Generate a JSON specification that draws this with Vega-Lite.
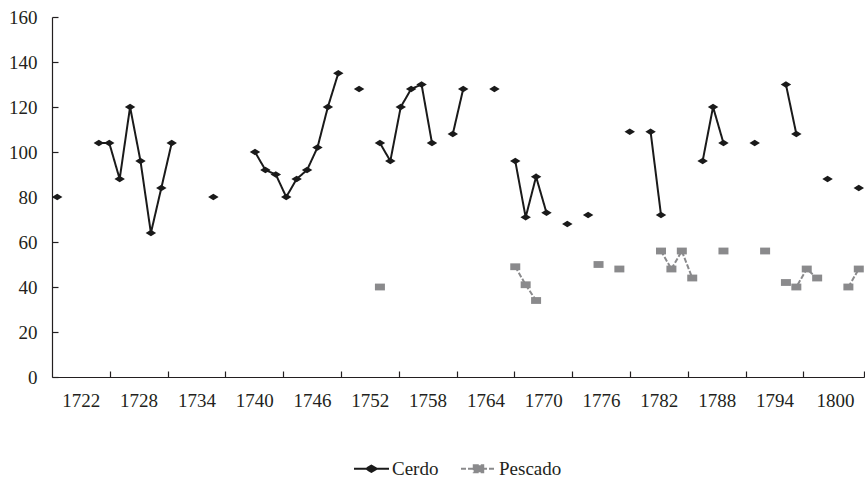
{
  "$schema": "https://vega.github.io/schema/vega-lite/v6.json",
  "width": 812,
  "height": 360,
  "autosize": {"type": "none"},
  "padding": {"left": 52, "top": 17, "right": 1, "bottom": 103},
  "background": "white",
  "config": {"view": {"stroke": null}, "font": "Liberation Serif"},
  "data": {
    "values": [
      {"anio": 1722, "serie": "Cerdo", "valor": 80, "tramo": "c1"},
      {"anio": 1726, "serie": "Cerdo", "valor": 104, "tramo": "c2"},
      {"anio": 1727, "serie": "Cerdo", "valor": 104, "tramo": "c2"},
      {"anio": 1728, "serie": "Cerdo", "valor": 88, "tramo": "c2"},
      {"anio": 1729, "serie": "Cerdo", "valor": 120, "tramo": "c2"},
      {"anio": 1730, "serie": "Cerdo", "valor": 96, "tramo": "c2"},
      {"anio": 1731, "serie": "Cerdo", "valor": 64, "tramo": "c2"},
      {"anio": 1732, "serie": "Cerdo", "valor": 84, "tramo": "c2"},
      {"anio": 1733, "serie": "Cerdo", "valor": 104, "tramo": "c2"},
      {"anio": 1737, "serie": "Cerdo", "valor": 80, "tramo": "c3"},
      {"anio": 1741, "serie": "Cerdo", "valor": 100, "tramo": "c4"},
      {"anio": 1742, "serie": "Cerdo", "valor": 92, "tramo": "c4"},
      {"anio": 1743, "serie": "Cerdo", "valor": 90, "tramo": "c4"},
      {"anio": 1744, "serie": "Cerdo", "valor": 80, "tramo": "c4"},
      {"anio": 1745, "serie": "Cerdo", "valor": 88, "tramo": "c4"},
      {"anio": 1746, "serie": "Cerdo", "valor": 92, "tramo": "c4"},
      {"anio": 1747, "serie": "Cerdo", "valor": 102, "tramo": "c4"},
      {"anio": 1748, "serie": "Cerdo", "valor": 120, "tramo": "c4"},
      {"anio": 1749, "serie": "Cerdo", "valor": 135, "tramo": "c4"},
      {"anio": 1751, "serie": "Cerdo", "valor": 128, "tramo": "c5"},
      {"anio": 1753, "serie": "Cerdo", "valor": 104, "tramo": "c6"},
      {"anio": 1754, "serie": "Cerdo", "valor": 96, "tramo": "c6"},
      {"anio": 1755, "serie": "Cerdo", "valor": 120, "tramo": "c6"},
      {"anio": 1756, "serie": "Cerdo", "valor": 128, "tramo": "c6"},
      {"anio": 1757, "serie": "Cerdo", "valor": 130, "tramo": "c6"},
      {"anio": 1758, "serie": "Cerdo", "valor": 104, "tramo": "c6"},
      {"anio": 1760, "serie": "Cerdo", "valor": 108, "tramo": "c7"},
      {"anio": 1761, "serie": "Cerdo", "valor": 128, "tramo": "c7"},
      {"anio": 1764, "serie": "Cerdo", "valor": 128, "tramo": "c8"},
      {"anio": 1766, "serie": "Cerdo", "valor": 96, "tramo": "c9"},
      {"anio": 1767, "serie": "Cerdo", "valor": 71, "tramo": "c9"},
      {"anio": 1768, "serie": "Cerdo", "valor": 89, "tramo": "c9"},
      {"anio": 1769, "serie": "Cerdo", "valor": 73, "tramo": "c9"},
      {"anio": 1771, "serie": "Cerdo", "valor": 68, "tramo": "c10"},
      {"anio": 1773, "serie": "Cerdo", "valor": 72, "tramo": "c11"},
      {"anio": 1777, "serie": "Cerdo", "valor": 109, "tramo": "c12"},
      {"anio": 1779, "serie": "Cerdo", "valor": 109, "tramo": "c13"},
      {"anio": 1780, "serie": "Cerdo", "valor": 72, "tramo": "c13"},
      {"anio": 1784, "serie": "Cerdo", "valor": 96, "tramo": "c14"},
      {"anio": 1785, "serie": "Cerdo", "valor": 120, "tramo": "c14"},
      {"anio": 1786, "serie": "Cerdo", "valor": 104, "tramo": "c14"},
      {"anio": 1789, "serie": "Cerdo", "valor": 104, "tramo": "c15"},
      {"anio": 1792, "serie": "Cerdo", "valor": 130, "tramo": "c16"},
      {"anio": 1793, "serie": "Cerdo", "valor": 108, "tramo": "c16"},
      {"anio": 1796, "serie": "Cerdo", "valor": 88, "tramo": "c17"},
      {"anio": 1799, "serie": "Cerdo", "valor": 84, "tramo": "c18"},
      {"anio": 1753, "serie": "Pescado", "valor": 40, "tramo": "p1"},
      {"anio": 1766, "serie": "Pescado", "valor": 49, "tramo": "p2"},
      {"anio": 1767, "serie": "Pescado", "valor": 41, "tramo": "p2"},
      {"anio": 1768, "serie": "Pescado", "valor": 34, "tramo": "p2"},
      {"anio": 1774, "serie": "Pescado", "valor": 50, "tramo": "p3"},
      {"anio": 1776, "serie": "Pescado", "valor": 48, "tramo": "p4"},
      {"anio": 1780, "serie": "Pescado", "valor": 56, "tramo": "p5"},
      {"anio": 1781, "serie": "Pescado", "valor": 48, "tramo": "p5"},
      {"anio": 1782, "serie": "Pescado", "valor": 56, "tramo": "p5"},
      {"anio": 1783, "serie": "Pescado", "valor": 44, "tramo": "p5"},
      {"anio": 1786, "serie": "Pescado", "valor": 56, "tramo": "p6"},
      {"anio": 1790, "serie": "Pescado", "valor": 56, "tramo": "p7"},
      {"anio": 1792, "serie": "Pescado", "valor": 42, "tramo": "p8"},
      {"anio": 1793, "serie": "Pescado", "valor": 40, "tramo": "p8"},
      {"anio": 1794, "serie": "Pescado", "valor": 48, "tramo": "p8"},
      {"anio": 1795, "serie": "Pescado", "valor": 44, "tramo": "p8"},
      {"anio": 1798, "serie": "Pescado", "valor": 40, "tramo": "p9"},
      {"anio": 1799, "serie": "Pescado", "valor": 48, "tramo": "p9"}
    ]
  },
  "encoding": {
    "x": {
      "field": "anio",
      "type": "quantitative",
      "scale": {"domain": [1721.5, 1799.5], "nice": false, "zero": false},
      "axis": {
        "title": null,
        "grid": false,
        "values": [1727.05, 1732.6, 1738.16, 1743.71, 1749.26, 1754.81, 1760.36, 1765.92, 1771.47, 1777.02, 1782.57, 1788.13, 1793.68, 1799.5],
        "labelExpr": "'' + (1716 + 6 * round((datum.value - 1721.5) / 5.552))",
        "labelOffset": -29,
        "tickSize": -6,
        "tickColor": "#231f20",
        "tickWidth": 1.2,
        "domainColor": "#231f20",
        "domainWidth": 1.2,
        "labelFont": "Liberation Serif",
        "labelFontSize": 19,
        "labelColor": "#231f20",
        "labelPadding": 20,
        "labelFlush": false,
        "labelOverlap": false,
        "labelBound": false
      }
    },
    "y": {
      "field": "valor",
      "type": "quantitative",
      "scale": {"domain": [0, 160], "nice": false},
      "axis": {
        "title": null,
        "grid": false,
        "values": [0, 20, 40, 60, 80, 100, 120, 140, 160],
        "tickSize": -6,
        "tickColor": "#231f20",
        "tickWidth": 1.2,
        "domainColor": "#231f20",
        "domainWidth": 1.2,
        "labelFont": "Liberation Serif",
        "labelFontSize": 19,
        "labelColor": "#231f20",
        "labelPadding": 21
      }
    }
  },
  "layer": [
    {
      "mark": {"type": "line", "strokeWidth": 2},
      "encoding": {
        "detail": {"field": "tramo", "type": "nominal"},
        "color": {
          "field": "serie",
          "type": "nominal",
          "scale": {"domain": ["Cerdo", "Pescado"], "range": ["#1a1a1a", "#8a8a8c"]},
          "legend": {
            "title": null,
            "orient": "none",
            "legendX": 301,
            "legendY": 433,
            "direction": "horizontal",
            "symbolSize": 1225,
            "symbolStrokeWidth": 2,
            "symbolType": {"expr": "datum.value === 'Cerdo' ? 'M-1,0H1M-0.3,0L0,-0.18L0.3,0L0,0.18Z' : 'M-1,0H1M-0.27,-0.2H0.27V0.2H-0.27Z'"},
            "labelFont": "Liberation Serif",
            "labelFontSize": 19,
            "labelColor": "#231f20",
            "labelOffset": 2,
            "columnPadding": 18,
            "encode": {
              "symbols": {
                "update": {
                  "fill": {"signal": "datum.value === 'Cerdo' ? '#1a1a1a' : '#8a8a8c'"},
                  "fillOpacity": {"value": 1}
                }
              }
            }
          }
        },
        "strokeDash": {
          "field": "serie",
          "type": "nominal",
          "scale": {"domain": ["Cerdo", "Pescado"], "range": [[1, 0], [5, 2]]}
        }
      }
    },
    {
      "transform": [{"filter": "datum.serie === 'Cerdo'"}],
      "mark": {"type": "point", "filled": true, "opacity": 1, "size": 110, "color": "#1a1a1a", "shape": "M-1,0L0,-0.62L1,0L0,0.62Z"}
    },
    {
      "transform": [{"filter": "datum.serie === 'Pescado'"}],
      "mark": {"type": "point", "filled": true, "opacity": 1, "size": 100, "color": "#8a8a8c", "shape": "M-1,-0.68H1V0.68H-1Z"}
    }
  ]
}
